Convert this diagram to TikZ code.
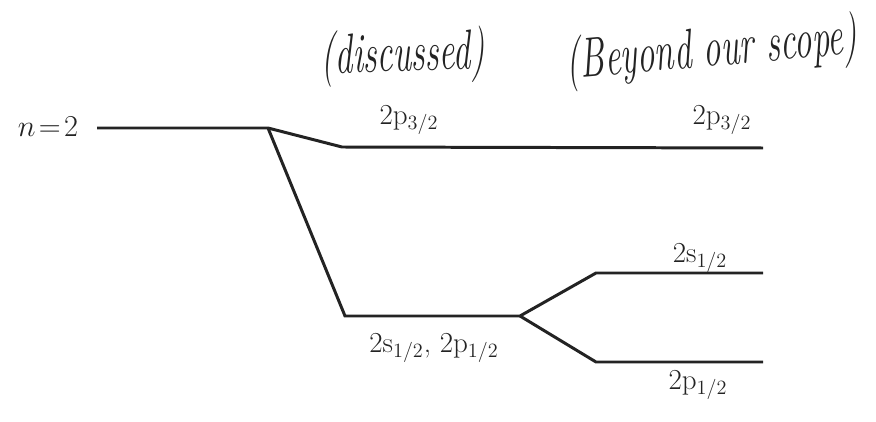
\documentclass[tikz,border=0pt]{standalone}
\usetikzlibrary{positioning}
\definecolor{inkgray}{RGB}{35,35,35}
\tikzset{
  level/.style={inkgray, line width=1.7pt, line join=miter},
  lvllabel/.style={text=inkgray, font=\fontsize{16.5}{20}\selectfont, inner sep=0pt},
  handnote/.style={text=inkgray, font=\fontsize{20}{24}\selectfont\itshape, inner sep=0pt}
}
\begin{document}
\begin{tikzpicture}[x=0.02cm,y=-0.02cm]
\useasboundingbox (0,0) rectangle (876,422);

% level end points
\coordinate (n2L) at (97,128);
\coordinate (split) at (268,128);
\coordinate (p32L) at (342,147);
\coordinate (p32R) at (763,148);
\coordinate (mixL) at (345,316);
\coordinate (mixR) at (520,316);
\coordinate (s12L) at (596,273);
\coordinate (s12R) at (763,273);
\coordinate (p12L) at (596,362);
\coordinate (p12R) at (763,362);

% levels
\draw[level] (n2L) -- (split) -- (p32L) -- (p32R);
\draw[level] (split) -- (mixL) -- (mixR) -- (s12L) -- (s12R);
\draw[level] (mixR) -- (p12L) -- (p12R);

% labels
\node[lvllabel, anchor=base] (n2) at (48,137) {$n\!=\!2$};
\node[lvllabel] (p32a) at (409,120) {2p\textsubscript{3/2}};
\node[lvllabel] (p32b) at (722,120) {2p\textsubscript{3/2}};
\node[lvllabel] (s12) at (700,258) {2s\textsubscript{1/2}};
\node[lvllabel] (mix) at (434,348) {2s\textsubscript{1/2}, 2p\textsubscript{1/2}};
\node[lvllabel] (p12) at (698,385) {2p\textsubscript{1/2}};

% hand notes
\node[handnote, rotate=2] (disc) at (403,57) {\scalebox{1}[1.6]{(discussed)}};
\node[handnote, rotate=5] (beyond) at (712,52) {\scalebox{1}[1.6]{(Beyond our scope)}};
\end{tikzpicture}
\end{document}
